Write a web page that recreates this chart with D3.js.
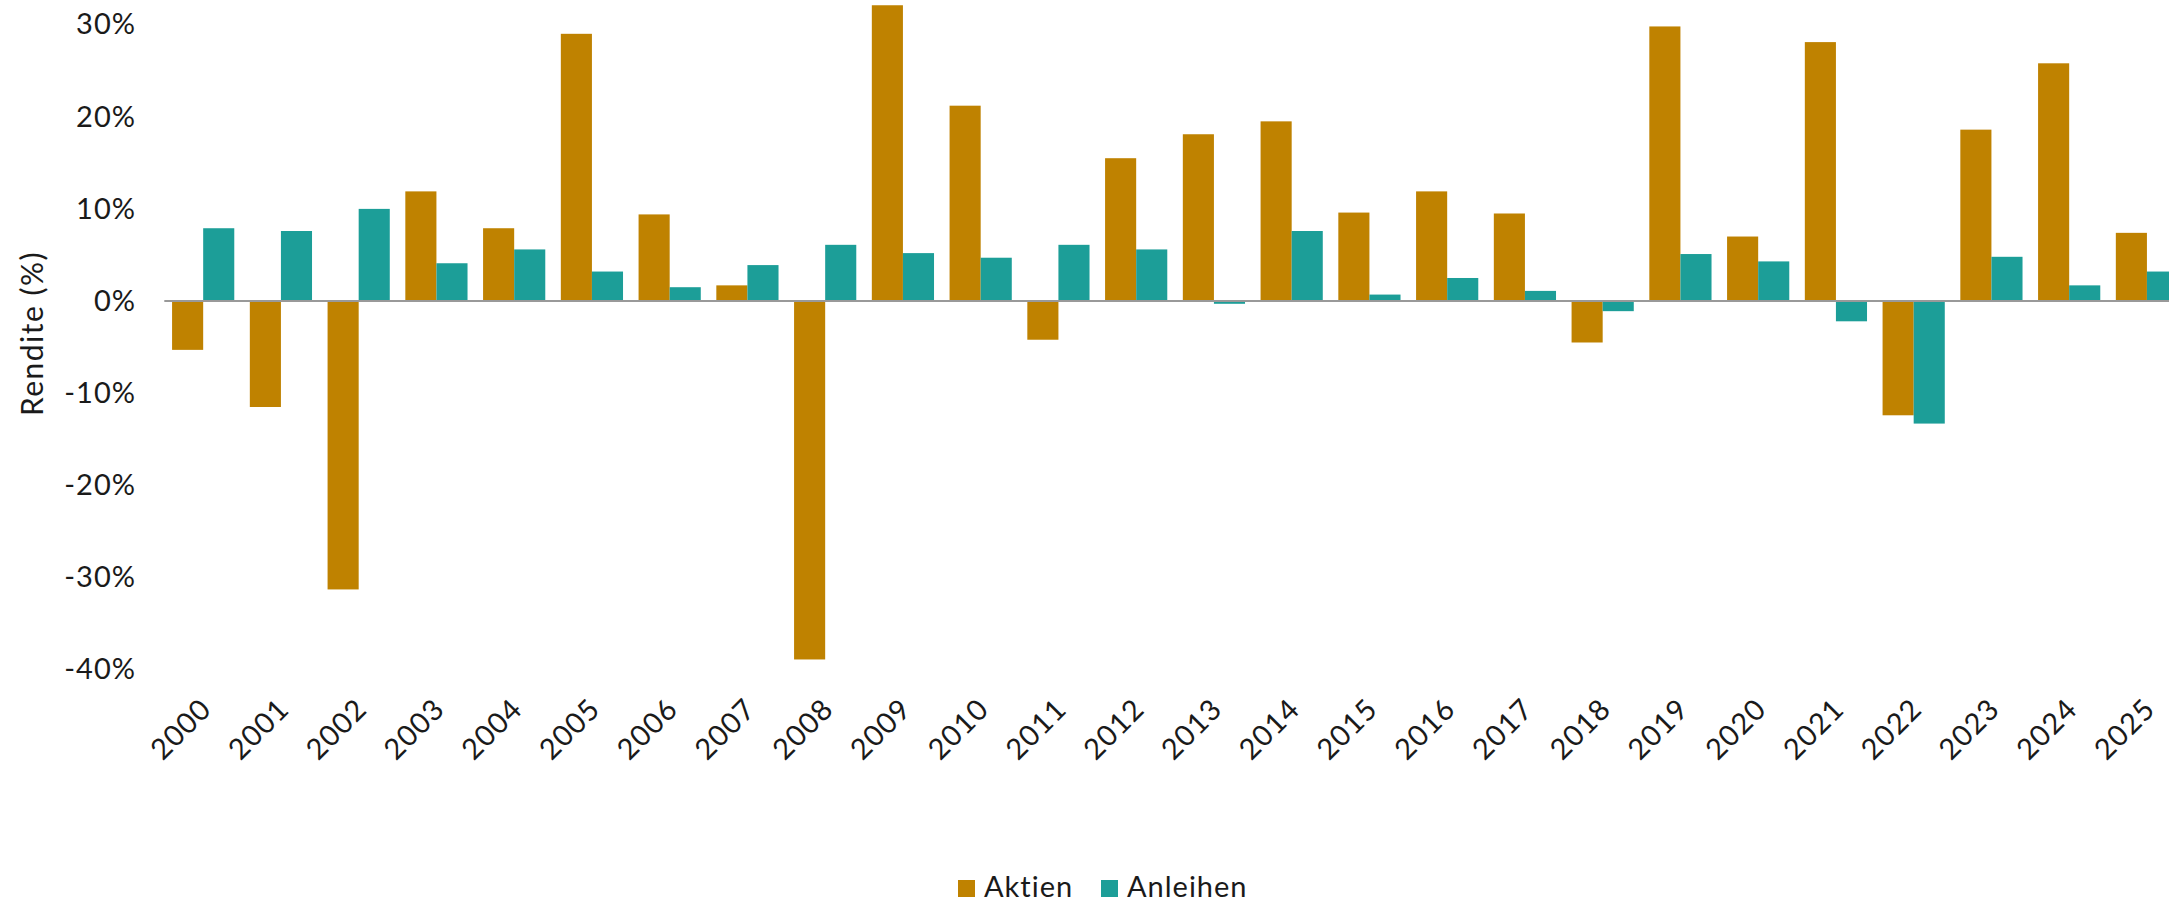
<!DOCTYPE html>
<html>
<head>
<meta charset="utf-8">
<script src="https://cdn.jsdelivr.net/npm/d3@7"></script>
<style>
  body { margin: 0; background: #fff; }
  svg text { font-family: Lato, "Open Sans", sans-serif; fill: #1a1a1a; letter-spacing: 1px; }
</style>
</head>
<body>
<svg width="2169" height="904"></svg>
<script>
// data
var years = ["2000","2001","2002","2003","2004","2005","2006","2007","2008","2009",
             "2010","2011","2012","2013","2014","2015","2016","2017","2018","2019",
             "2020","2021","2022","2023","2024","2025"];
var aktien   = [-5.3,-11.5,-31.3,11.9,7.9,29.0,9.4,1.7,-38.9,32.1,
                21.2,-4.2,15.5,18.1,19.5,9.6,11.9,9.5,-4.5,29.8,
                7.0,28.1,-12.4,18.6,25.8,7.4];
var anleihen = [7.9,7.6,10.0,4.1,5.6,3.2,1.5,3.9,6.1,5.2,
                4.7,6.1,5.6,-0.3,7.6,0.7,2.5,1.1,-1.1,5.1,
                4.3,-2.2,-13.3,4.8,1.7,3.2];
var series = ["Aktien", "Anleihen"];
var colors = ["#BF8200", "#1C9E98"];
var yTicks = [-40, -30, -20, -10, 0, 10, 20, 30];

var svg = d3.select("svg"),
    width = +svg.attr("width")

var rows = years.map(function(y, i){
    return {year: y, values: [aktien[i], anleihen[i]]};
});

var x0 = d3.scaleBand().domain(years).range([164.3, 2185.8])
    .paddingInner(0.2).paddingOuter(0.1);
var x1 = d3.scaleBand().domain(series).range([0, x0.bandwidth()]);
var yScale = d3.scaleLinear().domain([-40, 30]).range([669.6, 24.6]);
var color = d3.scaleOrdinal().domain(series).range(colors);

// bars
var groups = svg.append("g").selectAll("g")
    .data(rows)
    .enter().append("g")
    .attr("transform", function(d){ return "translate(" + x0(d.year) + ",0)"; });

groups.selectAll("rect")
    .data(function(d){ return d.values.map(function(v, k){ return {key: series[k], value: v}; }); })
    .enter().append("rect")
    .attr("x", function(d){ return x1(d.key); })
    .attr("width", x1.bandwidth())
    .attr("y", function(d){ return yScale(Math.max(0, d.value)); })
    .attr("height", function(d){ return Math.abs(yScale(d.value) - yScale(0)); })
    .attr("fill", function(d){ return color(d.key); });

// zero line
svg.append("line")
    .attr("x1", x0.range()[0]).attr("x2", width)
    .attr("y1", yScale(0)).attr("y2", yScale(0))
    .attr("stroke", "#999").attr("stroke-width", 2);

// y axis
var yAxis = svg.append("g")
    .attr("transform", "translate(136,0)")
    .call(d3.axisLeft(yScale).tickValues(yTicks).tickSize(0).tickPadding(0)
        .tickFormat(function(d){ return d + "%"; }));
yAxis.select(".domain").remove();
yAxis.selectAll("text").attr("font-size", 29).attr("fill", "#1a1a1a")
    .style("font-family", "Lato, sans-serif");

svg.append("text")
    .attr("transform", "translate(43,333.5) rotate(-90)")
    .attr("text-anchor", "middle")
    .attr("font-size", 30)
    .style("letter-spacing", "1.5px")
    .text("Rendite (%)");

// x axis labels
var xAxis = svg.append("g")
    .attr("transform", "translate(0,711)")
    .call(d3.axisBottom(x0).tickSize(0));
xAxis.select(".domain").remove();
xAxis.selectAll("text")
    .attr("x", 0).attr("y", 0).attr("dy", 0)
    .attr("transform", "translate(10,0) rotate(-45)")
    .attr("text-anchor", "end")
    .attr("font-size", 29).attr("fill", "#1a1a1a")
    .style("font-family", "Lato, sans-serif");

// legend
var legendX = [958, 1101];
var legend = svg.append("g").selectAll("g")
    .data(series)
    .enter().append("g")
    .attr("transform", function(d, i){ return "translate(" + legendX[i] + ",880)"; });
legend.append("rect")
    .attr("width", 17).attr("height", 17)
    .attr("fill", function(d){ return color(d); });
legend.append("text")
    .attr("x", 26).attr("y", 17)
    .attr("font-size", 29)
    .text(function(d){ return d; });
</script>
</body>
</html>
